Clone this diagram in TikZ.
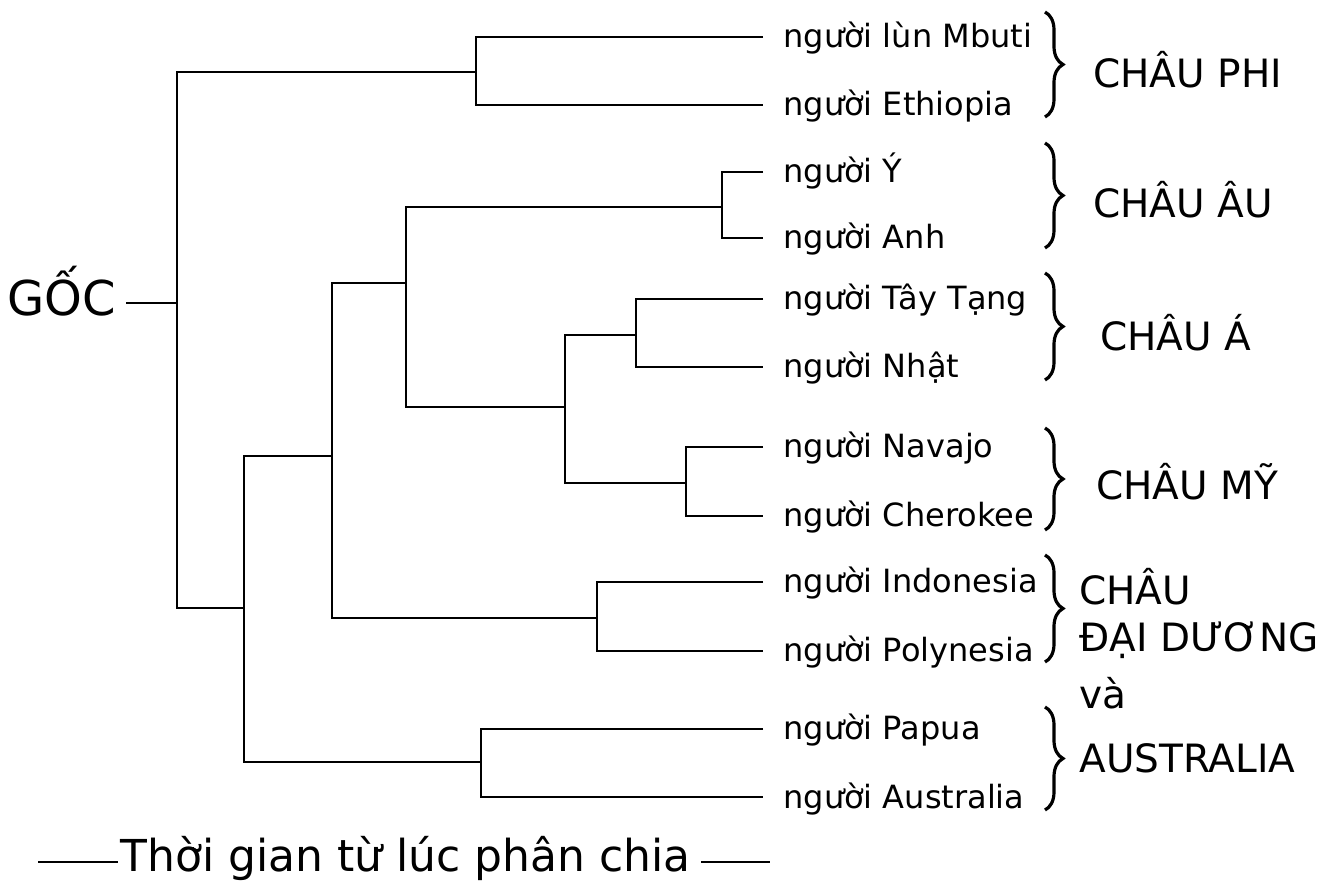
\documentclass[tikz,border=0pt]{standalone}
\usepackage{fontspec}
\setmainfont{DejaVu Sans}
\usetikzlibrary{decorations.pathreplacing}
\begin{document}
\begin{tikzpicture}[x=0.5pt,y=-0.5pt,
  br/.style={line width=1.3pt},
  leaf/.style={anchor=base west,inner sep=0pt,font=\fontsize{16}{19}\selectfont,xshift=10pt,yshift=-5.5pt},
  cont/.style={anchor=west,inner sep=0pt,font=\fontsize{19.5}{22}\selectfont},
  bracebox/.style={decorate,decoration={brace,amplitude=9pt},line width=1.6pt}]
\useasboundingbox (0,0) rectangle (1323,881);
% leaf ends
\coordinate (lMbuti) at (763,37);
\coordinate (lEth)   at (763,105);
\coordinate (lY)     at (763,172);
\coordinate (lAnh)   at (763,238);
\coordinate (lTay)   at (763,299);
\coordinate (lNhat)  at (763,367);
\coordinate (lNav)   at (763,447);
\coordinate (lChe)   at (763,516);
\coordinate (lIndo)  at (763,582);
\coordinate (lPoly)  at (763,651);
\coordinate (lPap)   at (763,729);
\coordinate (lAus)   at (763,797);
% junctions
\coordinate (nR) at (177,303);
\coordinate (nA) at (476,72);
\coordinate (nB) at (244,608);
\coordinate (nC) at (332,456);
\coordinate (nD) at (406,283);
\coordinate (nE) at (722,207);
\coordinate (nF) at (565,407);
\coordinate (nG) at (636,335);
\coordinate (nH) at (686,483);
\coordinate (nI) at (597,618);
\coordinate (nJ) at (481,762);
% labels
\node[leaf] (tMbuti) at (lMbuti) {người lùn Mbuti};
\node[leaf] (tEth)   at (lEth)   {người Ethiopia};
\node[leaf] (tY)     at (lY)     {người Ý};
\node[leaf] (tAnh)   at (lAnh)   {người Anh};
\node[leaf] (tTay)   at (lTay)   {người Tây Tạng};
\node[leaf] (tNhat)  at (lNhat)  {người Nhật};
\node[leaf] (tNav)   at (lNav)   {người Navajo};
\node[leaf] (tChe)   at (lChe)   {người Cherokee};
\node[leaf] (tIndo)  at (lIndo)  {người Indonesia};
\node[leaf] (tPoly)  at (lPoly)  {người Polynesia};
\node[leaf] (tPap)   at (lPap)   {người Papua};
\node[leaf] (tAus)   at (lAus)   {người Australia};
\node[anchor=base east,inner sep=0pt,font=\fontsize{24}{28}\selectfont] (goc) at (116,316) {GỐC};
% tree
\draw[br] (nR) -- ([xshift=5pt]goc.east |- nR);
\draw[br] (nA) -| (nR |- nB) -- (nB);
\draw[br] (lMbuti) -| (nA |- lEth) -- (lEth);
\draw[br] (nC) -| (nB |- nJ) -- (nJ);
\draw[br] (nD) -| (nC |- nI) -- (nI);
\draw[br] (nE) -| (nD |- nF) -- (nF);
\draw[br] (lY) -| (nE |- lAnh) -- (lAnh);
\draw[br] (nG) -| (nF |- nH) -- (nH);
\draw[br] (lTay) -| (nG |- lNhat) -- (lNhat);
\draw[br] (lNav) -| (nH |- lChe) -- (lChe);
\draw[br] (lIndo) -| (nI |- lPoly) -- (lPoly);
\draw[br] (lPap) -| (nJ |- lAus) -- (lAus);
% braces
\coordinate (b1t) at (1045,12);  \coordinate (b1b) at (1045,117);
\coordinate (b2t) at (1045,143); \coordinate (b2b) at (1045,248);
\coordinate (b3t) at (1045,273); \coordinate (b3b) at (1045,380);
\coordinate (b4t) at (1045,428); \coordinate (b4b) at (1045,530);
\coordinate (b5t) at (1045,555); \coordinate (b5b) at (1045,662);
\coordinate (b6t) at (1045,707); \coordinate (b6b) at (1045,810);
\draw[bracebox] (b1t) -- (b1b);
\draw[bracebox] (b2t) -- (b2b);
\draw[bracebox] (b3t) -- (b3b);
\draw[bracebox] (b4t) -- (b4b);
\draw[bracebox] (b5t) -- (b5b);
\draw[bracebox] (b6t) -- (b6b);
% continents
\node[cont] (cPhi) at (1093,70)  {CHÂU PHI};
\node[cont] (cAu)  at (1093,200) {CHÂU ÂU};
\node[cont] (cA)   at (1100,333) {CHÂU Á};
\node[cont] (cMy)  at (1096,482) {CHÂU MỸ};
\node[cont] (cO1)  at (1079,587) {CHÂU};
\node[cont] (cO2)  at (1079,640) {ĐẠI DƯƠNG};
\node[cont] (cO3)  at (1079,693) {và};
\node[cont] (cO4)  at (1079,758) {AUSTRALIA};
% time axis
\node[anchor=base west,inner sep=0pt,font=\fontsize{22}{25}\selectfont] (time) at (120,871) {Thời gian từ lúc phân chia};
\coordinate (tl) at (38,862);
\coordinate (tr) at (770,862);
\draw[line width=1pt] (tl) -- ([xshift=-1pt]time.west |- tl);
\draw[line width=1pt] ([xshift=5pt]time.east |- tr) -- (tr);
\end{tikzpicture}
\end{document}
